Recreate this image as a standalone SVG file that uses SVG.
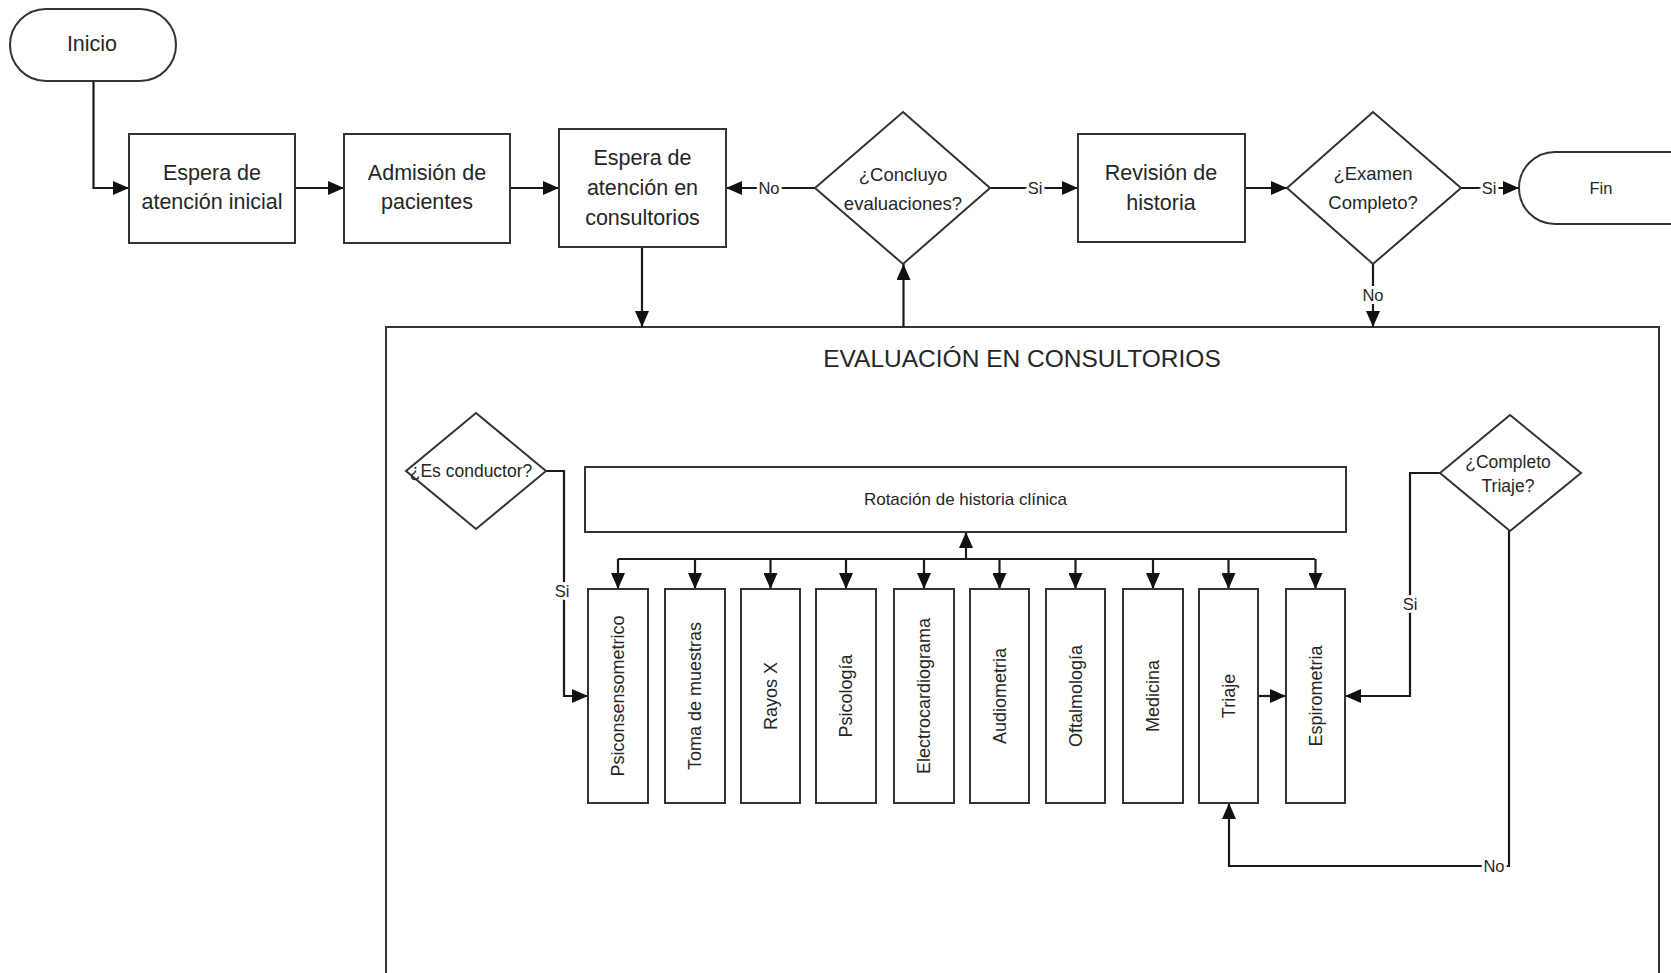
<svg xmlns="http://www.w3.org/2000/svg" width="1671" height="973" viewBox="0 0 1671 973">
  <style>
    .shape { fill: #fff; stroke: #333; stroke-width: 2; }
    .frame { fill: none; stroke: #333; stroke-width: 2; }
    .conn { fill: none; stroke: #1a1a1a; stroke-width: 2.2; }
    .t { font-family: "Liberation Sans", Arial, sans-serif; fill: #262626; text-anchor: middle; dominant-baseline: central; }
    .box { font-size: 21.5px; }
    .dec { font-size: 18.5px; }
    .small { font-size: 17.5px; }
    .vert { font-size: 18px; }
    .title { font-size: 24.5px; }
    .lbl { font-family: "Liberation Sans", Arial, sans-serif; font-size: 16.5px; fill: #262626; text-anchor: middle; dominant-baseline: central; stroke: #fff; stroke-width: 6; paint-order: stroke; }
  </style>
  <defs>
    <marker id="arrow" viewBox="0 0 16 14" refX="16" refY="7" markerWidth="16" markerHeight="14" markerUnits="userSpaceOnUse" orient="auto">
      <path d="M0,0 L16,7 L0,14 z" fill="#111"/>
    </marker>
  </defs>

  <rect width="1671" height="973" fill="#fff"/>

  <!-- container for the consulting-room evaluation (open at the bottom) -->
  <g id="evaluacion-consultorios">
    <path class="frame" d="M386,990 V327 H1659 V990"/>
    <text class="t title" x="1022" y="358">EVALUACIÓN EN CONSULTORIOS</text>
  </g>

  <!-- connectors -->
  <g id="connectors">
    <path class="conn" d="M93.5,81 V188 H129" marker-end="url(#arrow)"/>
    <path class="conn" d="M295,188 H344" marker-end="url(#arrow)"/>
    <path class="conn" d="M510,188 H559" marker-end="url(#arrow)"/>
    <path class="conn" d="M815,188 H726" marker-end="url(#arrow)"/>
    <path class="conn" d="M990,188 H1078" marker-end="url(#arrow)"/>
    <path class="conn" d="M1245,188 H1287" marker-end="url(#arrow)"/>
    <path class="conn" d="M1461,188 H1519" marker-end="url(#arrow)"/>
    <path class="conn" d="M1373,264 V327" marker-end="url(#arrow)"/>
    <path class="conn" d="M642,247 V327" marker-end="url(#arrow)"/>
    <path class="conn" d="M903.5,327 V264" marker-end="url(#arrow)"/>

    <!-- driver branch -->
    <path class="conn" d="M546,471 H564 V696 H588" marker-end="url(#arrow)"/>

    <!-- distribution bus from the clinical-history rotation -->
    <path class="conn" d="M618,559 H1315"/>
    <path class="conn" d="M966,559 V532" marker-end="url(#arrow)"/>
    <path class="conn" d="M618,559 V589" marker-end="url(#arrow)"/>
    <path class="conn" d="M695,559 V589" marker-end="url(#arrow)"/>
    <path class="conn" d="M770.5,559 V589" marker-end="url(#arrow)"/>
    <path class="conn" d="M846,559 V589" marker-end="url(#arrow)"/>
    <path class="conn" d="M924,559 V589" marker-end="url(#arrow)"/>
    <path class="conn" d="M999.5,559 V589" marker-end="url(#arrow)"/>
    <path class="conn" d="M1075.5,559 V589" marker-end="url(#arrow)"/>
    <path class="conn" d="M1153,559 V589" marker-end="url(#arrow)"/>
    <path class="conn" d="M1228.5,559 V589" marker-end="url(#arrow)"/>
    <path class="conn" d="M1315.5,559 V589" marker-end="url(#arrow)"/>

    <path class="conn" d="M1258,696 H1286" marker-end="url(#arrow)"/>
    <path class="conn" d="M1440,473 H1410 V696 H1345" marker-end="url(#arrow)"/>
    <path class="conn" d="M1509,531 V866 H1229 V803" marker-end="url(#arrow)"/>

    <text class="lbl" x="769" y="188">No</text>
    <text class="lbl" x="1035" y="188">Si</text>
    <text class="lbl" x="1489" y="188">Si</text>
    <text class="lbl" x="1373" y="295">No</text>
    <text class="lbl" x="562" y="591">Si</text>
    <text class="lbl" x="1410" y="604">Si</text>
    <text class="lbl" x="1494" y="866">No</text>
  </g>

  <!-- main row -->
  <g id="inicio">
    <rect class="shape" x="10" y="9" width="166" height="72" rx="36"/>
    <text class="t box" x="92" y="44">Inicio</text>
  </g>
  <g id="espera-inicial">
    <rect class="shape" x="129" y="134" width="166" height="109"/>
    <text class="t box" x="212" y="173">Espera de</text>
    <text class="t box" x="212" y="202">atención inicial</text>
  </g>
  <g id="admision">
    <rect class="shape" x="344" y="134" width="166" height="109"/>
    <text class="t box" x="427" y="173">Admisión de</text>
    <text class="t box" x="427" y="202">pacientes</text>
  </g>
  <g id="espera-consultorios">
    <rect class="shape" x="559" y="129" width="167" height="118"/>
    <text class="t box" x="642.5" y="158">Espera de</text>
    <text class="t box" x="642.5" y="188">atención en</text>
    <text class="t box" x="642.5" y="218">consultorios</text>
  </g>
  <g id="concluyo">
    <polygon class="shape" points="903,112 990,188 903,264 815,188"/>
    <text class="t dec" x="903" y="174">¿Concluyo</text>
    <text class="t dec" x="903" y="203">evaluaciones?</text>
  </g>
  <g id="revision">
    <rect class="shape" x="1078" y="134" width="167" height="108"/>
    <text class="t box" x="1161" y="173">Revisión de</text>
    <text class="t box" x="1161" y="203">historia</text>
  </g>
  <g id="examen">
    <polygon class="shape" points="1373,112 1461,188 1373,264 1287,188"/>
    <text class="t dec" x="1373" y="173">¿Examen</text>
    <text class="t dec" x="1373" y="202">Completo?</text>
  </g>
  <g id="fin">
    <rect class="shape" x="1519" y="152" width="190" height="72" rx="36"/>
    <text class="t" style="font-size:16.5px" x="1601" y="188">Fin</text>
  </g>

  <!-- inside the evaluation area -->
  <g id="es-conductor">
    <polygon class="shape" points="476,413 546,471 476,529 406,471"/>
    <text class="t small" x="471" y="471">¿Es conductor?</text>
  </g>
  <g id="rotacion">
    <rect class="shape" x="585" y="467" width="761" height="65"/>
    <text class="t" style="font-size:17px" x="965.5" y="499">Rotación de historia clínica</text>
  </g>
  <g id="completo-triaje">
    <polygon class="shape" points="1510,415 1581,473 1510,531 1440,473"/>
    <text class="t small" x="1508" y="462">¿Completo</text>
    <text class="t small" x="1508" y="486">Triaje?</text>
  </g>

  <g id="psiconsensometrico">
    <rect class="shape" x="588" y="589" width="60" height="214"/>
    <text class="t vert" transform="translate(618,696) rotate(-90)">Psiconsensometrico</text>
  </g>
  <g id="toma-muestras">
    <rect class="shape" x="665" y="589" width="60" height="214"/>
    <text class="t vert" transform="translate(695,696) rotate(-90)">Toma de muestras</text>
  </g>
  <g id="rayos-x">
    <rect class="shape" x="741" y="589" width="59" height="214"/>
    <text class="t vert" transform="translate(770.5,696) rotate(-90)">Rayos X</text>
  </g>
  <g id="psicologia">
    <rect class="shape" x="816" y="589" width="60" height="214"/>
    <text class="t vert" transform="translate(846,696) rotate(-90)">Psicología</text>
  </g>
  <g id="electrocardiograma">
    <rect class="shape" x="894" y="589" width="60" height="214"/>
    <text class="t vert" transform="translate(924,696) rotate(-90)">Electrocardiograma</text>
  </g>
  <g id="audiometria">
    <rect class="shape" x="970" y="589" width="59" height="214"/>
    <text class="t vert" transform="translate(999.5,696) rotate(-90)">Audiometria</text>
  </g>
  <g id="oftalmologia">
    <rect class="shape" x="1046" y="589" width="59" height="214"/>
    <text class="t vert" transform="translate(1075.5,696) rotate(-90)">Oftalmología</text>
  </g>
  <g id="medicina">
    <rect class="shape" x="1123" y="589" width="60" height="214"/>
    <text class="t vert" transform="translate(1153,696) rotate(-90)">Medicina</text>
  </g>
  <g id="triaje">
    <rect class="shape" x="1199" y="589" width="59" height="214"/>
    <text class="t vert" transform="translate(1228.5,696) rotate(-90)">Triaje</text>
  </g>
  <g id="espirometria">
    <rect class="shape" x="1286" y="589" width="59" height="214"/>
    <text class="t vert" transform="translate(1315.5,696) rotate(-90)">Espirometria</text>
  </g>
</svg>
